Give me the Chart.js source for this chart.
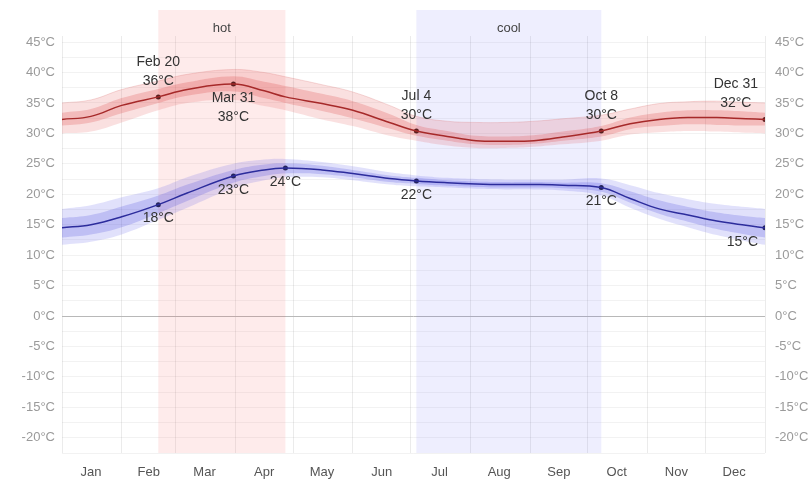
<!DOCTYPE html>
<html>
<head>
<meta charset="utf-8">
<script src="https://cdn.jsdelivr.net/npm/chart.js@4"></script>
<style>
  body { margin: 0; background: #fff; }
  canvas { display: block; }
</style>
</head>
<body>
<canvas id="chart" width="812" height="480"></canvas>
<script>
// day of year (0 = Jan 1) for the sampled points
const days = [0, 15, 31, 50, 65, 89, 105, 116, 135, 151, 170, 184, 200, 215, 230, 245, 260, 280, 295, 310, 325, 340, 355, 365];

// average daily high and its percentile bands (°C)
const highAvg = [32.3, 32.8, 34.6, 36.0, 37.2, 38.1, 37.0, 36.0, 34.9, 33.8, 31.8, 30.4, 29.5, 28.8, 28.7, 28.8, 29.4, 30.4, 31.6, 32.3, 32.6, 32.6, 32.4, 32.3];
const highP10 = [30.0, 30.3, 31.8, 33.8, 35.0, 35.5, 34.5, 33.8, 32.3, 31.2, 29.6, 28.8, 28.0, 27.6, 27.6, 27.8, 28.2, 28.8, 29.8, 30.2, 30.4, 30.3, 30.1, 30.0];
const highP25 = [31.3, 31.8, 33.3, 35.0, 36.2, 36.9, 35.8, 35.0, 33.7, 32.5, 30.8, 29.6, 28.8, 28.2, 28.1, 28.3, 28.8, 29.5, 30.7, 31.2, 31.5, 31.4, 31.3, 31.3];
const highP75 = [33.4, 34.0, 35.8, 37.3, 38.4, 39.4, 38.5, 37.8, 36.5, 35.3, 33.2, 31.4, 30.4, 29.6, 29.5, 29.7, 30.3, 31.2, 32.6, 33.4, 33.8, 33.8, 33.6, 33.4];
const highP90 = [35.0, 35.5, 37.2, 38.6, 39.7, 40.5, 40.0, 39.3, 38.0, 36.8, 34.6, 32.8, 32.0, 31.8, 31.8, 32.0, 32.4, 33.0, 34.0, 34.9, 35.2, 35.3, 35.1, 35.0];

// average daily low and its percentile bands (°C)
const lowAvg = [14.5, 15.0, 16.3, 18.3, 20.2, 23.0, 24.0, 24.3, 24.0, 23.4, 22.6, 22.2, 21.9, 21.7, 21.6, 21.6, 21.5, 21.1, 19.3, 17.6, 16.6, 15.6, 14.9, 14.5];
const lowP10 = [11.7, 12.2, 13.4, 15.8, 17.8, 21.0, 22.3, 22.8, 22.8, 22.3, 21.6, 21.3, 21.1, 20.9, 20.8, 20.8, 20.6, 19.8, 17.8, 16.0, 14.6, 13.3, 12.3, 11.7];
const lowP25 = [12.9, 13.4, 14.6, 16.9, 18.9, 21.9, 23.0, 23.4, 23.3, 22.8, 22.0, 21.7, 21.4, 21.2, 21.1, 21.1, 21.0, 20.4, 18.6, 16.8, 15.5, 14.3, 13.4, 12.9];
const lowP75 = [16.1, 16.6, 18.0, 19.8, 21.6, 24.0, 24.9, 25.1, 24.7, 24.0, 23.1, 22.7, 22.3, 22.1, 22.0, 22.0, 21.9, 21.8, 20.5, 19.0, 17.9, 17.0, 16.4, 16.1];
const lowP90 = [17.6, 18.2, 19.5, 21.0, 22.8, 25.0, 25.7, 25.8, 25.3, 24.6, 23.6, 23.1, 22.7, 22.5, 22.4, 22.4, 22.4, 22.6, 21.5, 20.2, 19.2, 18.4, 17.9, 17.6];

// labelled points
const highMarkDays = [50, 89, 184, 280, 365];
const highMarkVals = [36.0, 38.1, 30.4, 30.4, 32.3];
const highMarkNames = ["Feb 20", "Mar 31", "Jul 4", "Oct 8", "Dec 31"];
const highMarkSide = ["above", "below", "above", "above", "above"];
const lowMarkDays = [50, 89, 116, 184, 280, 365];
const lowMarkVals = [18.3, 23.0, 24.3, 22.2, 21.1, 14.5];

// seasons
const seasonNames = ["hot", "cool"];
const seasonStart = [50, 184];
const seasonEnd = [116, 280];

// axes
const monthNames = ["Jan", "Feb", "Mar", "Apr", "May", "Jun", "Jul", "Aug", "Sep", "Oct", "Nov", "Dec"];
const monthMid = [15, 45, 74, 105, 135, 166, 196, 227, 258, 288, 319, 349];
const monthStart = [0, 31, 59, 90, 120, 151, 181, 212, 243, 273, 304, 334, 365];
const yTicks = [-22.5, -20, -17.5, -15, -12.5, -10, -7.5, -5, -2.5, 0, 2.5, 5, 7.5, 10, 12.5, 15, 17.5, 20, 22.5, 25, 27.5, 30, 32.5, 35, 37.5, 40, 42.5, 45];

const FONT = "'Liberation Sans', Arial, sans-serif";

function pts(vals) {
    return days.map((d, i) => ({ x: d, y: vals[i] }));
}

function band(vals, color, fillTo, edge) {
    return {
        data: pts(vals),
        borderColor: edge || "rgba(0,0,0,0)",
        borderWidth: edge ? 1 : 0,
        backgroundColor: color,
        fill: fillTo,
        pointRadius: 0,
        tension: 0.4
    };
}

const seasonPlugin = {
    id: "seasons",
    beforeDatasetsDraw(chart) {
        const ctx = chart.ctx;
        const x = chart.scales.x;
        const area = chart.chartArea;
        const colors = ["rgba(245, 60, 60, 0.10)", "rgba(70, 70, 245, 0.09)"];
        ctx.save();
        seasonNames.forEach((name, i) => {
            const x0 = x.getPixelForValue(seasonStart[i]);
            const x1 = x.getPixelForValue(seasonEnd[i]);
            ctx.fillStyle = colors[i];
            ctx.fillRect(x0, area.top - 26, x1 - x0, area.bottom - area.top + 26);
            ctx.fillStyle = "#444";
            ctx.font = "13px " + FONT;
            ctx.textAlign = "center";
            ctx.textBaseline = "middle";
            ctx.fillText(name, (x0 + x1) / 2, area.top - 8);
        });
        ctx.restore();
    }
};

const labelPlugin = {
    id: "marklabels",
    afterDatasetsDraw(chart) {
        const ctx = chart.ctx;
        const x = chart.scales.x;
        const y = chart.scales.y;
        const right = chart.chartArea.right - 7;
        ctx.save();
        ctx.font = "14px " + FONT;
        ctx.fillStyle = "#333";
        ctx.textAlign = "center";
        ctx.textBaseline = "middle";

        function put(lines, px, py, side) {
            const w = Math.max(...lines.map(l => ctx.measureText(l).width));
            const cx = Math.min(px, right - w / 2);
            lines.forEach((l, j) => {
                let ty;
                if (side === "above") ty = py - 16 - (lines.length - 1 - j) * 19;
                else ty = py + 14 + j * 19;
                ctx.fillText(l, cx, ty);
            });
        }

        highMarkDays.forEach((d, i) => {
            put([highMarkNames[i], Math.round(highMarkVals[i]) + "°C"],
                x.getPixelForValue(d), y.getPixelForValue(highMarkVals[i]), highMarkSide[i]);
        });
        lowMarkDays.forEach((d, i) => {
            put([Math.round(lowMarkVals[i]) + "°C"],
                x.getPixelForValue(d), y.getPixelForValue(lowMarkVals[i]), "below");
        });
        ctx.restore();
    }
};

const yTickOpts = {
    autoSkip: false,
    color: "#9a9a9a",
    font: { family: FONT, size: 13 },
    callback: v => (v % 5 === 0 ? v + "°C" : "")
};

new Chart(document.getElementById("chart"), {
    type: "line",
    data: {
        datasets: [
            band(highP90, "rgba(225, 70, 70, 0.17)", 1, "rgba(215, 110, 110, 0.25)"),
            band(highP10, "rgba(0,0,0,0)", false),
            band(highP75, "rgba(215, 50, 50, 0.22)", 3),
            band(highP25, "rgba(0,0,0,0)", false),
            {
                data: pts(highAvg),
                borderColor: "#8a2020",
                borderWidth: 1.5,
                pointRadius: 0,
                fill: false,
                tension: 0.4
            },
            band(lowP90, "rgba(80, 80, 230, 0.17)", 6),
            band(lowP10, "rgba(0,0,0,0)", false),
            band(lowP75, "rgba(70, 70, 220, 0.22)", 8),
            band(lowP25, "rgba(0,0,0,0)", false),
            {
                data: pts(lowAvg),
                borderColor: "#1e1e78",
                borderWidth: 1.5,
                pointRadius: 0,
                fill: false,
                tension: 0.4
            },
            {
                data: highMarkDays.map((d, i) => ({ x: d, y: highMarkVals[i] })),
                showLine: false,
                pointRadius: 2.5,
                pointBackgroundColor: "#111",
                pointBorderColor: "#111",
                pointBorderWidth: 0
            },
            {
                data: lowMarkDays.map((d, i) => ({ x: d, y: lowMarkVals[i] })),
                showLine: false,
                pointRadius: 2.5,
                pointBackgroundColor: "#111",
                pointBorderColor: "#111",
                pointBorderWidth: 0
            }
        ]
    },
    options: {
        responsive: false,
        animation: false,
        devicePixelRatio: 1,
        layout: { padding: { top: 36, left: 0, right: 0, bottom: 0 } },
        plugins: { legend: { display: false }, tooltip: { enabled: false } },
        scales: {
            x: {
                type: "linear",
                position: "bottom",
                min: 0,
                max: 365,
                grid: { display: false },
                border: { display: false },
                afterBuildTicks: s => { s.ticks = monthMid.map(v => ({ value: v })); },
                afterFit: s => { s.height = 27; },
                ticks: {
                    autoSkip: false,
                    maxRotation: 0,
                    padding: 4,
                    color: "#555",
                    font: { family: FONT, size: 13 },
                    callback: (v, i) => monthNames[i]
                }
            },
            xg: {
                type: "linear",
                position: "bottom",
                min: 0,
                max: 365,
                border: { display: false },
                grid: { color: "rgba(0,0,0,0.08)", drawTicks: false },
                ticks: { display: false },
                afterBuildTicks: s => { s.ticks = monthStart.map(v => ({ value: v })); },
                afterFit: s => { s.height = 0; }
            },
            y: {
                position: "left",
                min: -22.5,
                max: 46,
                border: { display: false },
                grid: {
                    drawTicks: false,
                    color: c => (c.tick && c.tick.value === 0 ? "#b8b8b8" : "rgba(0,0,0,0.05)")
                },
                afterBuildTicks: s => { s.ticks = yTicks.map(v => ({ value: v })); },
                afterFit: s => { s.width = 62; },
                ticks: Object.assign({ padding: 7 }, yTickOpts)
            },
            y2: {
                position: "right",
                min: -22.5,
                max: 46,
                border: { display: false },
                grid: { display: false, drawTicks: false },
                afterBuildTicks: s => { s.ticks = yTicks.map(v => ({ value: v })); },
                afterFit: s => { s.width = 47; },
                ticks: Object.assign({ padding: 10 }, yTickOpts)
            }
        }
    },
    plugins: [seasonPlugin, labelPlugin]
});
</script>
</body>
</html>
